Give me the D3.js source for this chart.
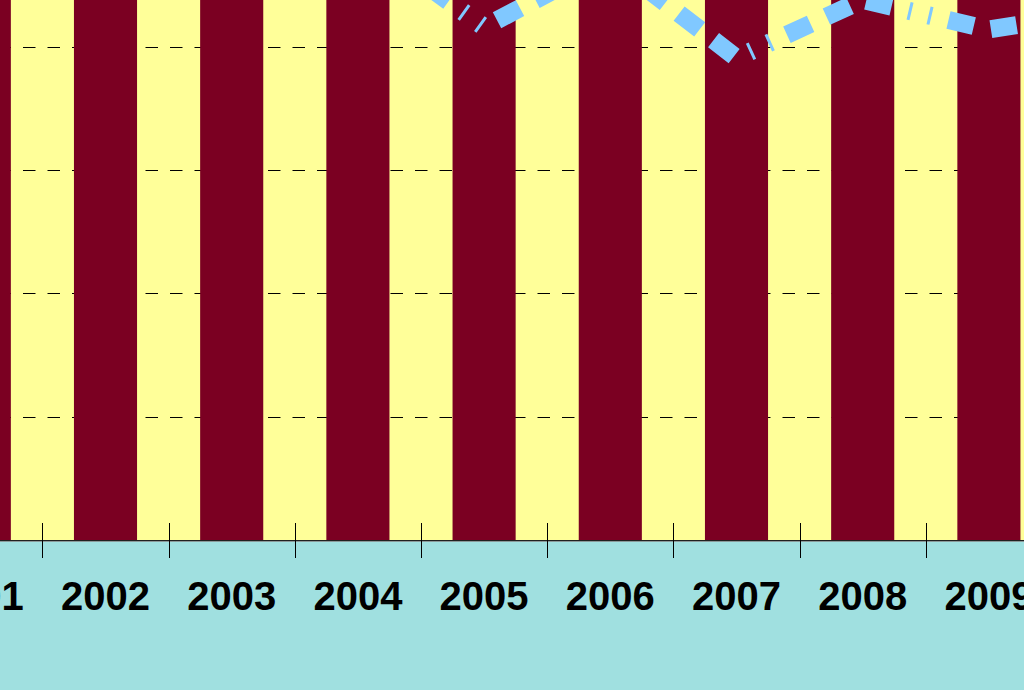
<!DOCTYPE html>
<html>
<head>
<meta charset="utf-8">
<script src="https://cdn.jsdelivr.net/npm/d3@7"></script>
<style>
  html, body { margin: 0; padding: 0; background: #A0E0E0; overflow: hidden; }
  svg { display: block; }
</style>
</head>
<body>
<svg id="chart" width="1024" height="690"></svg>
<script>
// ---- data ----
const years = ["2001", "2002", "2003", "2004", "2005", "2006", "2007", "2008", "2009", "2010"];
const barValues = [62, 68, 71, 74, 77, 81, 79, 84, 88, 91];
const lineValues = [50.2, 48.5, 51.0, 49.0, 41.6, 47.0, 39.1, 43.8, 41.4, 43.0];
const gridTicks = [10, 20, 30, 40, 50];

// ---- layout ----
const W = 1024, H = 690;
const axisY = 540;
const step = 126.2;
const x0 = -83.8;

const svg = d3.select("#chart");

const x = d3.scaleBand()
  .domain(years)
  .range([x0, x0 + step * years.length])
  .paddingInner(0.5)
  .paddingOuter(0.25);

const y = d3.scaleLinear().domain([0, 50]).range([axisY, axisY - 616.5]);

// background below plot
svg.append("rect").attr("x", 0).attr("y", 0).attr("width", W).attr("height", H).attr("fill", "#A0E0E0");
// plot area
svg.append("rect").attr("x", 0).attr("y", 0).attr("width", W).attr("height", axisY).attr("fill", "#FFFF99");

// gridlines
svg.append("g").selectAll("line").data(gridTicks).join("line")
  .attr("x1", -1.5).attr("x2", W)
  .attr("y1", d => Math.round(y(d)) + 0.5).attr("y2", d => Math.round(y(d)) + 0.5)
  .attr("stroke", "#000").attr("stroke-width", 1)
  .attr("stroke-dasharray", "12.5,12");

// bars
svg.append("g").selectAll("rect").data(years).join("rect")
  .attr("x", d => x(d))
  .attr("width", x.bandwidth())
  .attr("y", (d, i) => y(barValues[i]))
  .attr("height", (d, i) => y(0) - y(barValues[i]))
  .attr("fill", "#7B0022");

// line
const pts = years.map((d, i) => [x(d) + x.bandwidth() / 2, y(lineValues[i])]);
const lineGen = d3.line();
const dash = [26, 17.5, 26, 17.5, 26, 17.5, 3, 17.5, 3, 17.5];
const period = d3.sum(dash);
// phase: align first thin mark just after the 2007 point
const tmp = svg.append("path").attr("d", lineGen(pts.slice(0, 7))).attr("fill", "none");
const len2007 = tmp.node().getTotalLength();
tmp.remove();
const thinPos = 26 * 3 + 17.5 * 3 + 1.5;
let off = (thinPos - (len2007 + 16)) % period;
if (off < 0) off += period;

svg.append("path")
  .attr("d", lineGen(pts))
  .attr("fill", "none")
  .attr("stroke", "#80C8FF")
  .attr("stroke-width", 18)
  .attr("stroke-linejoin", "round")
  .attr("stroke-dasharray", dash.join(","))
  .attr("stroke-dashoffset", off);

// bottom area redraw (cover anything below axis)
svg.append("rect").attr("x", 0).attr("y", axisY).attr("width", W).attr("height", H - axisY).attr("fill", "#A0E0E0");

// axis line
svg.append("line").attr("x1", 0).attr("x2", W).attr("y1", axisY + 0.5).attr("y2", axisY + 0.5)
  .attr("stroke", "#202020").attr("stroke-width", 1);
svg.append("line").attr("x1", 0).attr("x2", W).attr("y1", axisY + 1.5).attr("y2", axisY + 1.5)
  .attr("stroke", "#8A9A9A").attr("stroke-width", 1);

// ticks at category boundaries
const boundaries = d3.range(years.length + 1).map(i => x0 + i * step);
svg.append("g").selectAll("line").data(boundaries).join("line")
  .attr("x1", d => Math.round(d) + 0.5).attr("x2", d => Math.round(d) + 0.5)
  .attr("y1", axisY - 17).attr("y2", axisY + 18)
  .attr("stroke", "#000").attr("stroke-width", 1);

// labels
svg.append("g").selectAll("text").data(years).join("text")
  .attr("x", d => x(d) + x.bandwidth() / 2)
  .attr("y", 610)
  .attr("text-anchor", "middle")
  .attr("font-family", "'Liberation Sans', Arial, sans-serif")
  .attr("font-weight", "bold")
  .attr("font-size", 40)
  .attr("fill", "#000")
  .text(d => d);
</script>
</body>
</html>
